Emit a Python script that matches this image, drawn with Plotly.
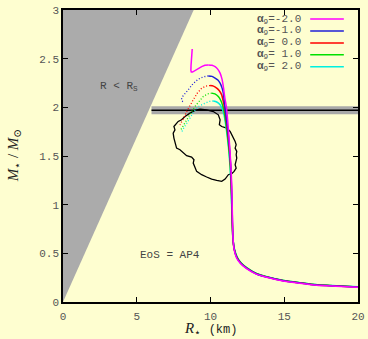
import plotly.graph_objects as go

# ---------------- data ----------------
# Mass-radius relations for EoS AP4 with scalar coupling alpha_9.
alpha_labels = ["-2.0", "-1.0", " 0.0", " 1.0", " 2.0"]
colors = ["#ff00ff", "#1f1fd8", "#ff0000", "#00e000", "#00f0e0"]

# stable branches (R in km, M in solar masses), from the maximum downwards
stable_R = [
    [9.85, 10.10, 10.31, 10.50, 10.65, 10.78, 10.87, 10.97, 11.08, 11.20, 11.30, 11.38, 11.44, 11.47,
     11.50, 11.53, 11.60, 11.76, 12.03, 12.42, 13.10, 13.80, 14.92, 16.05, 17.20, 18.50, 20.0],
    [9.85, 10.10, 10.31, 10.50, 10.65, 10.78, 10.87, 10.98, 11.15, 11.28, 11.37, 11.42, 11.46, 11.49,
     11.53, 11.61, 11.78, 12.05, 12.44, 13.12, 13.81, 14.94, 16.07, 17.21, 18.50, 20.0],
    [9.97, 10.20, 10.42, 10.60, 10.76, 10.87, 10.95, 11.12, 11.26, 11.36, 11.41, 11.45, 11.48, 11.52,
     11.61, 11.79, 12.06, 12.45, 13.13, 13.82, 14.95, 16.08, 17.22, 18.50, 20.0],
    [10.08, 10.30, 10.53, 10.70, 10.82, 10.92, 11.08, 11.23, 11.34, 11.40, 11.44, 11.48, 11.52, 11.62,
     11.80, 12.07, 12.46, 13.14, 13.83, 14.96, 16.09, 17.23, 18.51, 20.0],
    [10.19, 10.42, 10.65, 10.78, 10.88, 11.05, 11.21, 11.32, 11.39, 11.43, 11.47, 11.52, 11.63, 11.82,
     12.09, 12.48, 13.15, 13.84, 14.97, 16.10, 17.24, 18.52, 20.0],
]
stable_M = [
    [2.436, 2.432, 2.418, 2.39, 2.351, 2.29, 2.213, 2.10, 2.00, 1.80, 1.60, 1.40, 1.20, 1.00,
     0.80, 0.65, 0.54, 0.455, 0.395, 0.345, 0.286, 0.254, 0.216, 0.193, 0.172, 0.162, 0.151],
    [2.323, 2.318, 2.30, 2.28, 2.248, 2.20, 2.146, 2.00, 1.80, 1.60, 1.40, 1.20, 1.00, 0.80,
     0.65, 0.54, 0.457, 0.397, 0.347, 0.288, 0.256, 0.218, 0.195, 0.174, 0.164, 0.153],
    [2.224, 2.218, 2.197, 2.17, 2.128, 2.06, 2.00, 1.80, 1.60, 1.40, 1.20, 1.00, 0.80, 0.65,
     0.54, 0.458, 0.398, 0.348, 0.289, 0.257, 0.219, 0.196, 0.175, 0.165, 0.154],
    [2.146, 2.138, 2.111, 2.07, 2.02, 1.96, 1.80, 1.60, 1.40, 1.20, 1.00, 0.80, 0.65, 0.54,
     0.459, 0.40, 0.35, 0.29, 0.258, 0.22, 0.197, 0.176, 0.166, 0.155],
    [2.065, 2.055, 2.026, 1.99, 1.95, 1.80, 1.60, 1.40, 1.20, 1.00, 0.80, 0.65, 0.54, 0.46,
     0.401, 0.351, 0.291, 0.259, 0.221, 0.198, 0.177, 0.167, 0.156],
]

# unstable branches, from the maximum towards higher central density
unstable_R = [
    [9.85, 9.62, 9.40, 9.18, 8.95, 8.78, 8.70, 8.67, 8.68, 8.71, 8.74, 8.76],
    [9.85, 9.50, 9.17, 8.80, 8.49, 8.25, 8.10, 8.04, 8.06, 8.16],
    [9.97, 9.70, 9.40, 9.10, 8.83, 8.60, 8.40, 8.15, 7.93],
    [10.08, 9.80, 9.51, 9.25, 9.00, 8.70, 8.40, 8.15, 7.99],
    [10.19, 9.90, 9.60, 9.17, 8.85, 8.55, 8.30, 8.12, 8.04, 8.10],
]
unstable_M = [
    [2.436, 2.432, 2.418, 2.395, 2.372, 2.362, 2.362, 2.38, 2.43, 2.49, 2.55, 2.60],
    [2.323, 2.312, 2.289, 2.24, 2.18, 2.135, 2.11, 2.085, 2.065, 2.056],
    [2.224, 2.218, 2.197, 2.145, 2.077, 2.02, 1.96, 1.88, 1.82],
    [2.146, 2.138, 2.111, 2.07, 2.02, 1.95, 1.87, 1.80, 1.77],
    [2.065, 2.06, 2.04, 2.008, 1.95, 1.88, 1.82, 1.77, 1.742, 1.74],
]
unstable_dash = ["solid", "1px,2px", "1px,2px", "1px,2px", "1px,2px"]

# observational constraint region (closed contour)
contour_R = [9.29, 9.74, 10.19, 10.53, 10.65, 10.60, 10.76, 11.10, 11.33, 11.44, 11.60, 11.67, 11.74,
             11.67, 11.78, 11.74, 11.78, 11.74, 11.67, 11.74, 11.60, 11.44, 11.21, 10.99, 10.76,
             10.42, 10.08, 9.74, 9.40, 9.06, 8.95, 8.83, 8.88, 8.72, 8.38, 8.15, 7.93, 7.70, 7.59,
             7.52, 7.47, 7.59, 7.52, 7.70, 7.81, 8.04, 8.27, 8.61, 8.95, 9.29]
contour_M = [1.981, 1.974, 1.957, 1.923, 1.872, 1.821, 1.803, 1.786, 1.752, 1.718, 1.684, 1.650, 1.615,
             1.581, 1.547, 1.513, 1.479, 1.444, 1.410, 1.376, 1.342, 1.318, 1.308, 1.263, 1.239,
             1.250, 1.263, 1.284, 1.308, 1.342, 1.376, 1.427, 1.462, 1.489, 1.503, 1.530, 1.564,
             1.581, 1.633, 1.684, 1.735, 1.769, 1.803, 1.838, 1.855, 1.872, 1.906, 1.940, 1.968, 1.981]

# pulsar mass measurement 1.97 +/- 0.04 Msun
psr_mass = 1.97
psr_err = 0.04
psr_R_range = [6.0, 20.0]

# Schwarzschild radius per solar mass (km)
rs_per_msun = 2.953
wedge_M = [0.0, 3.0]

x_ticks = [0, 5, 10, 15, 20]
y_ticks = [0, 0.5, 1, 1.5, 2, 2.5, 3]
y_tick_text = ["0", "0.5", "1", "1.5", "2", "2.5", "3"]

# ---------------- figure ----------------
bg = "#fefed0"
mono = "Liberation Mono, DejaVu Sans Mono, monospace"
serif = "Liberation Serif, DejaVu Serif, serif"
tick_grey = "#555555"

fig = go.Figure()

# region R < R_S
wedge_R = [rs_per_msun * m for m in wedge_M]
fig.add_trace(go.Scatter(
    x=[0.0, wedge_R[1], 0.0, 0.0], y=[wedge_M[0], wedge_M[1], wedge_M[1], wedge_M[0]],
    fill="toself", fillcolor="#ababab", line=dict(width=0), mode="lines",
    hoverinfo="skip", showlegend=False))

# pulsar mass band
lo, hi = psr_mass - psr_err, psr_mass + psr_err
fig.add_trace(go.Scatter(
    x=[psr_R_range[0], psr_R_range[1], psr_R_range[1], psr_R_range[0], psr_R_range[0]],
    y=[lo, lo, hi, hi, lo], fill="toself", fillcolor="#a8a8a8",
    line=dict(width=0), mode="lines", hoverinfo="skip", showlegend=False))
fig.add_trace(go.Scatter(
    x=psr_R_range, y=[psr_mass, psr_mass], mode="lines",
    line=dict(color="black", width=1.5), showlegend=False))

# constraint contour
fig.add_trace(go.Scatter(
    x=contour_R, y=contour_M, mode="lines",
    line=dict(color="black", width=1.3), showlegend=False))

# mass-radius curves
for i in range(len(alpha_labels)):
    fig.add_trace(go.Scatter(
        x=unstable_R[i], y=unstable_M[i], mode="lines",
        line=dict(color=colors[i], width=1.5 if unstable_dash[i] == "solid" else 1.3,
                  dash=unstable_dash[i]),
        showlegend=False))
for i in reversed(range(len(alpha_labels))):
    fig.add_trace(go.Scatter(
        x=stable_R[i], y=stable_M[i], mode="lines",
        line=dict(color=colors[i], width=1.5, shape="spline", smoothing=0.5),
        showlegend=False))

annotations = []
shapes = []

# key: label then line sample
key_y0 = 0.969
key_dy = 0.0408
for i, lab in enumerate(alpha_labels):
    y = key_y0 - i * key_dy
    annotations.append(dict(
        x=0.812, y=y, xref="paper", yref="paper", xanchor="right", yanchor="middle",
        showarrow=False,
        text="<b>α</b><sub>9</sub>=" + lab.replace(" ", "\u00a0"),
        font=dict(family=mono, size=11, color=tick_grey)))
    shapes.append(dict(type="line", xref="paper", yref="paper",
                       x0=0.838, x1=0.952, y0=y, y1=y,
                       line=dict(color=colors[i], width=1.5)))

# in-plot labels
annotations.append(dict(
    x=3.78, y=2.21, xref="x", yref="y", showarrow=False,
    text="R\u00a0<\u00a0R<sub>S</sub>",
    font=dict(family=mono, size=11, color="#444444")))
annotations.append(dict(
    x=7.24, y=0.487, xref="x", yref="y", showarrow=False,
    text="EoS\u00a0=\u00a0AP4",
    font=dict(family=mono, size=11, color="#444444")))

# axis titles
annotations.append(dict(
    x=0.5, y=-0.094, xref="paper", yref="paper", showarrow=False,
    xanchor="center", yanchor="middle",
    text="<i>R</i><sub>⋆</sub>\u00a0\u00a0<span style=\"font-family:Liberation Mono;font-size:12px;font-style:normal\">(km)</span>",
    font=dict(family=serif, size=15, color="#222222")))
annotations.append(dict(
    x=-0.165, y=0.5, xref="paper", yref="paper", showarrow=False,
    xanchor="center", yanchor="middle", textangle=-90,
    text="<i>M</i><sub>⋆</sub> / <i>M</i><sub>⊙</sub>",
    font=dict(family=serif, size=15, color="#222222")))

axis_common = dict(
    showgrid=False, zeroline=False, showline=True, linecolor="black", linewidth=1.5,
    mirror="allticks", ticks="inside", ticklen=5, tickwidth=1, tickcolor="black",
    automargin=False,
    tickfont=dict(family=mono, size=11, color=tick_grey))

fig.update_layout(
    width=368, height=339,
    margin=dict(l=63, r=10, t=10, b=37, autoexpand=False),
    paper_bgcolor=bg, plot_bgcolor=bg,
    showlegend=False,
    xaxis=dict(range=[0, 20], tickvals=x_ticks, ticklabelstandoff=3, **axis_common),
    yaxis=dict(range=[0, 3], tickvals=y_ticks, ticktext=y_tick_text, **axis_common),
    annotations=annotations, shapes=shapes,
)

fig.write_html("out.html")
